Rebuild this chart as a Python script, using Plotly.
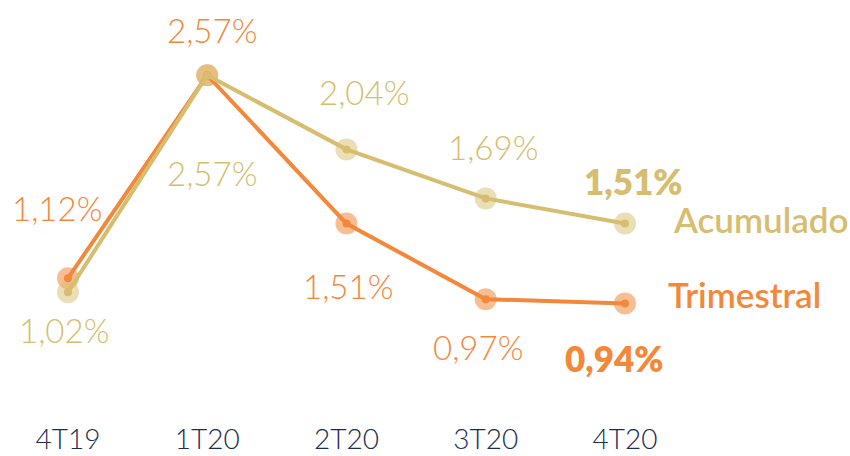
import plotly.graph_objects as go

categories = ["4T19", "1T20", "2T20", "3T20", "4T20"]
trimestral = [1.12, 2.57, 1.51, 0.97, 0.94]
acumulado = [1.02, 2.57, 2.04, 1.69, 1.51]
trim_labels = ["1,12%", "2,57%", "1,51%", "0,97%", "0,94%"]
acum_labels = ["1,02%", "2,57%", "2,04%", "1,69%", "1,51%"]

ORANGE = "#F3883A"
GOLD = "#D6BD70"
NAVY = "#1E2D4F"

# label offsets (pixels) relative to each point: (dx, dy up)
trim_off = [(-11, 70), (5, 45), (2, -62), (-8, -48), (-10, -55)]
acum_off = [(-4, -38), (5, -98), (18, 57), (7, 51), (9, 43)]

fig = go.Figure()
xs = list(range(len(categories)))

# halo circles
fig.add_trace(go.Scatter(x=xs, y=trimestral, mode="markers",
                         marker=dict(size=22, color=ORANGE, opacity=0.55),
                         hoverinfo="skip", showlegend=False, cliponaxis=False))
fig.add_trace(go.Scatter(x=xs, y=acumulado, mode="markers",
                         marker=dict(size=22, color=GOLD, opacity=0.5),
                         hoverinfo="skip", showlegend=False, cliponaxis=False))
# lines with dots
fig.add_trace(go.Scatter(x=xs, y=trimestral, mode="lines+markers",
                         line=dict(color=ORANGE, width=4),
                         marker=dict(size=8, color=ORANGE),
                         name="Trimestral", showlegend=False, cliponaxis=False))
fig.add_trace(go.Scatter(x=xs, y=acumulado, mode="lines+markers",
                         line=dict(color=GOLD, width=4),
                         marker=dict(size=8, color=GOLD),
                         name="Acumulado", showlegend=False, cliponaxis=False))

annotations = []
n = len(categories)
for i in range(n):
    bold = (i == n - 1)
    for vals, labels, offs, col in ((trimestral, trim_labels, trim_off, ORANGE),
                                    (acumulado, acum_labels, acum_off, GOLD)):
        annotations.append(dict(
            x=xs[i], y=vals[i], xref="x", yref="y", text=labels[i],
            showarrow=False, xshift=offs[i][0], yshift=offs[i][1],
            font=dict(family="Lato", size=35 if bold else 33, color=col,
                      weight=800 if bold else 300)))

# series names
annotations.append(dict(x=xs[-1], y=acumulado[-1], xref="x", yref="y",
                        text="Acumulado", showarrow=False, xanchor="left",
                        xshift=46, yshift=5,
                        font=dict(family="Lato", size=35, color=GOLD, weight=600)))
annotations.append(dict(x=xs[-1], y=trimestral[-1], xref="x", yref="y",
                        text="Trimestral", showarrow=False, xanchor="left",
                        xshift=41, yshift=9,
                        font=dict(family="Lato", size=35, color=ORANGE, weight=600)))

fig.update_layout(
    width=850, height=456,
    margin=dict(l=0, r=0, t=0, b=36),
    paper_bgcolor="white", plot_bgcolor="white",
    annotations=annotations,
    xaxis=dict(tickmode="array", tickvals=xs, ticktext=categories,
               range=[-0.488, 5.616], showgrid=False, zeroline=False,
               showline=False, ticks="", automargin=False,
               tickfont=dict(family="Lato", size=28,
                             color=NAVY, weight=300)),
    yaxis=dict(range=[0.107, 3.107], visible=False, showgrid=False,
               zeroline=False, automargin=False),
)

fig.write_html("out.html", config={"displayModeBar": False},
               post_script="document.body.style.margin='0px';document.body.style.padding='0px';")
